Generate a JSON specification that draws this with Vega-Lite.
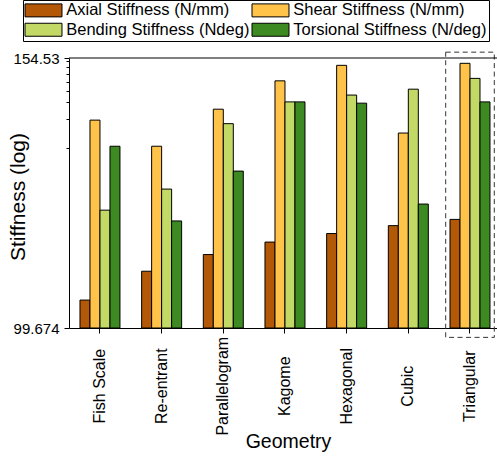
{
  "$schema": "https://vega.github.io/schema/vega-lite/v6.json",
  "width": 428,
  "height": 270,
  "autosize": {"type": "none"},
  "padding": {"left": 69, "top": 58, "right": 0, "bottom": 132},
  "background": "white",
  "config": {
    "font": "Liberation Sans",
    "view": {"stroke": null},
    "axis": {"domainColor": "black", "tickColor": "black", "labelColor": "black", "titleColor": "black", "titleFontWeight": "normal", "grid": false, "domainWidth": 1, "tickWidth": 1}
  },
  "layer": [
    {
      "data": {
        "values": [
          {"Geometry": "Fish Scale", "Type": "Axial Stiffness (N/mm)", "Stiffness": 104.3},
          {"Geometry": "Fish Scale", "Type": "Shear Stiffness (N/mm)", "Stiffness": 139.7},
          {"Geometry": "Fish Scale", "Type": "Bending Stiffness (Ndeg)", "Stiffness": 120.7},
          {"Geometry": "Fish Scale", "Type": "Torsional Stiffness (N/deg)", "Stiffness": 133.9},
          {"Geometry": "Re-entrant", "Type": "Axial Stiffness (N/mm)", "Stiffness": 109.3},
          {"Geometry": "Re-entrant", "Type": "Shear Stiffness (N/mm)", "Stiffness": 133.9},
          {"Geometry": "Re-entrant", "Type": "Bending Stiffness (Ndeg)", "Stiffness": 124.9},
          {"Geometry": "Re-entrant", "Type": "Torsional Stiffness (N/deg)", "Stiffness": 118.6},
          {"Geometry": "Parallelogram", "Type": "Axial Stiffness (N/mm)", "Stiffness": 112.3},
          {"Geometry": "Parallelogram", "Type": "Shear Stiffness (N/mm)", "Stiffness": 142.2},
          {"Geometry": "Parallelogram", "Type": "Bending Stiffness (Ndeg)", "Stiffness": 138.9},
          {"Geometry": "Parallelogram", "Type": "Torsional Stiffness (N/deg)", "Stiffness": 128.6},
          {"Geometry": "Kagome", "Type": "Axial Stiffness (N/mm)", "Stiffness": 114.6},
          {"Geometry": "Kagome", "Type": "Shear Stiffness (N/mm)", "Stiffness": 148.9},
          {"Geometry": "Kagome", "Type": "Bending Stiffness (Ndeg)", "Stiffness": 143.9},
          {"Geometry": "Kagome", "Type": "Torsional Stiffness (N/deg)", "Stiffness": 143.9},
          {"Geometry": "Hexagonal", "Type": "Axial Stiffness (N/mm)", "Stiffness": 116.2},
          {"Geometry": "Hexagonal", "Type": "Shear Stiffness (N/mm)", "Stiffness": 152.7},
          {"Geometry": "Hexagonal", "Type": "Bending Stiffness (Ndeg)", "Stiffness": 145.5},
          {"Geometry": "Hexagonal", "Type": "Torsional Stiffness (N/deg)", "Stiffness": 143.6},
          {"Geometry": "Cubic", "Type": "Axial Stiffness (N/mm)", "Stiffness": 117.7},
          {"Geometry": "Cubic", "Type": "Shear Stiffness (N/mm)", "Stiffness": 136.8},
          {"Geometry": "Cubic", "Type": "Bending Stiffness (Ndeg)", "Stiffness": 146.9},
          {"Geometry": "Cubic", "Type": "Torsional Stiffness (N/deg)", "Stiffness": 121.9},
          {"Geometry": "Triangular", "Type": "Axial Stiffness (N/mm)", "Stiffness": 118.9},
          {"Geometry": "Triangular", "Type": "Shear Stiffness (N/mm)", "Stiffness": 153.2},
          {"Geometry": "Triangular", "Type": "Bending Stiffness (Ndeg)", "Stiffness": 149.5},
          {"Geometry": "Triangular", "Type": "Torsional Stiffness (N/deg)", "Stiffness": 143.9}
        ]
      },
      "mark": {"type": "bar", "stroke": "black", "strokeWidth": 1},
      "encoding": {
        "x": {
          "field": "Geometry",
          "type": "nominal",
          "scale": {
            "domain": ["Fish Scale", "Re-entrant", "Parallelogram", "Kagome", "Hexagonal", "Cubic", "Triangular"],
            "paddingInner": 0.3514,
            "paddingOuter": 0.1458,
            "align": 0.61,
            "round": false
          },
          "axis": {
            "title": "Geometry",
            "labelAngle": -90,
            "labelAlign": "center",
            "labelBaseline": "middle",
            "labelFontSize": 16,
            "labelPadding": 52.7,
            "tickSize": 5,
            "titleFontSize": 19.5,
            "titleX": 219,
            "titleY": 119.5,
            "titleAngle": 0,
            "titleAlign": "center",
            "titleBaseline": "alphabetic"
          }
        },
        "xOffset": {
          "field": "Type",
          "type": "nominal",
          "scale": {
            "domain": ["Axial Stiffness (N/mm)", "Shear Stiffness (N/mm)", "Bending Stiffness (Ndeg)", "Torsional Stiffness (N/deg)"],
            "paddingInner": 0,
            "paddingOuter": 0
          }
        },
        "y": {
          "field": "Stiffness",
          "type": "quantitative",
          "scale": {"type": "log", "domain": [99.674, 154.53], "nice": false, "zero": false},
          "axis": {
            "title": "Stiffness (log)",
            "values": [99.674, 133.6, 139.9, 143.8, 146.5, 148.6, 150.5, 152.4, 153.8, 154.53],
            "labelExpr": "datum.value == 154.53 ? '154.53' : (datum.value == 99.674 ? '99.674' : '')",
            "tickSize": {"condition": {"test": "datum.value == 154.53 || datum.value == 99.674", "value": 5}, "value": 3},
            "labelFontSize": 15,
            "labelPadding": 5,
            "labelFlush": false,
            "labelOverlap": false,
            "titleFontSize": 21,
            "titleX": -44.5,
            "titleY": 138.5,
            "titleAngle": 270,
            "titleAlign": "center",
            "titleBaseline": "alphabetic"
          }
        },
        "y2": {"datum": 99.674},
        "color": {
          "field": "Type",
          "type": "nominal",
          "scale": {
            "domain": ["Axial Stiffness (N/mm)", "Shear Stiffness (N/mm)", "Bending Stiffness (Ndeg)", "Torsional Stiffness (N/deg)"],
            "range": ["#B35806", "#FFC34A", "#C2D966", "#3E8A22"]
          },
          "legend": {
            "title": null,
            "orient": "none",
            "legendX": -46,
            "legendY": -58,
            "direction": "horizontal",
            "columns": 2,
            "symbolType": "M-2.846,-1H2.846V1H-2.846Z",
            "symbolSize": 169,
            "symbolStrokeColor": "black",
            "symbolStrokeWidth": 1,
            "symbolOpacity": 1,
            "symbolOffset": 10.25,
            "labelOffset": 14.5,
            "labelFontSize": 16.5,
            "labelColor": "black",
            "labelLimit": 400,
            "columnPadding": 0,
            "rowPadding": 1.5,
            "padding": 2,
            "strokeColor": "black",
            "fillColor": "white"
          }
        }
      }
    },
    {
      "data": {"values": [{"Geometry": "Triangular"}]},
      "mark": {"type": "bar", "filled": false, "stroke": "#333333", "strokeWidth": 1, "strokeDash": [5, 3.5], "width": {"band": 1.215}},
      "encoding": {
        "x": {"field": "Geometry", "type": "nominal"},
        "y": {"datum": 156.0},
        "y2": {"datum": 98.17}
      }
    },
    {
      "data": {"values": [{}]},
      "mark": {"type": "rule", "color": "black", "strokeWidth": 1},
      "encoding": {"y": {"datum": 154.53}}
    }
  ]
}
